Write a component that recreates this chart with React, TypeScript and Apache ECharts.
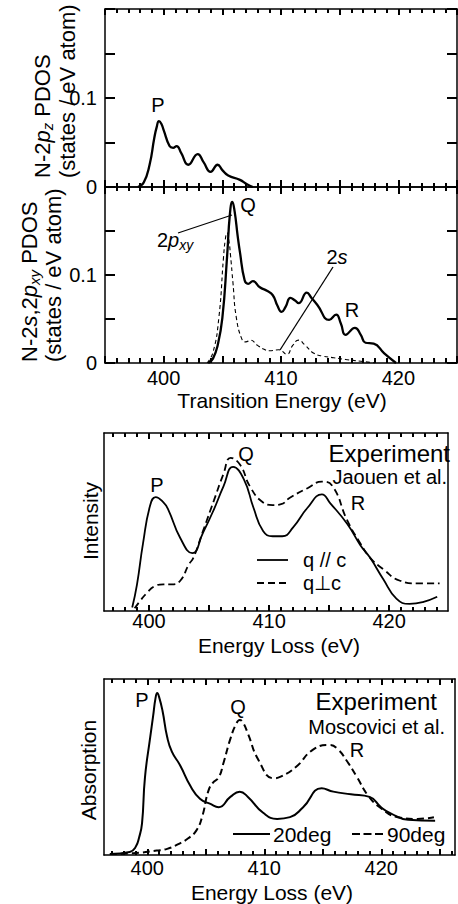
import React, { useEffect, useRef } from "react";
import * as echarts from "echarts";

const FONT = "'Liberation Sans', Arial, Helvetica, sans-serif";
const BLACK = "#000";

// ---------- Panel 1: N-2pz PDOS ----------
const pzEnergy = [397.8, 398.3, 398.8, 399.2, 399.4, 399.6, 399.8, 400.0, 400.5, 400.8, 401.1, 401.5, 402.1, 402.9, 403.4, 404.0, 404.6, 405.0, 405.5, 406.5, 407.1, 407.6];
const pzValue = [0, 0.005, 0.025, 0.055, 0.067, 0.074, 0.071, 0.064, 0.046, 0.044, 0.046, 0.038, 0.025, 0.037, 0.028, 0.017, 0.025, 0.019, 0.013, 0.008, 0.003, 0];

// ---------- Panel 2: N-2pxy (solid) and N-2s (dashed) PDOS ----------
const pxyEnergy = [403.8, 404.2, 404.6, 405.0, 405.4, 405.65, 405.85, 406.05, 406.3, 406.5, 406.9, 407.2, 407.6, 408.2, 408.8, 409.3, 409.7, 410.05, 410.4, 410.8, 411.2, 411.5, 412.2, 412.6, 413.1, 414.1, 414.7, 415.1, 415.5, 416.3, 416.8, 417.2, 417.9, 418.8, 419.8];
const pxyValue = [0, 0.005, 0.02, 0.051, 0.12, 0.17, 0.183, 0.172, 0.145, 0.126, 0.094, 0.09, 0.093, 0.086, 0.082, 0.077, 0.065, 0.058, 0.064, 0.074, 0.071, 0.068, 0.08, 0.074, 0.066, 0.049, 0.055, 0.045, 0.032, 0.04, 0.032, 0.023, 0.022, 0.011, 0];
const sEnergy = [403.7, 404.2, 404.7, 405.1, 405.25, 405.4, 405.55, 405.7, 405.9, 406.2, 406.7, 407.0, 407.4, 408.0, 408.5, 409.0, 409.8, 410.5, 411.0, 411.5, 412.0, 412.8, 413.5, 414.5, 415.5, 416.8, 418.0];
const sValue = [0, 0.012, 0.051, 0.12, 0.14, 0.148, 0.14, 0.122, 0.092, 0.051, 0.026, 0.024, 0.026, 0.02, 0.016, 0.014, 0.015, 0.01, 0.02, 0.026, 0.021, 0.011, 0.008, 0.006, 0.004, 0.002, 0];

// ---------- Panel 3: Experiment, Jaouen et al. ----------
const qParEnergy = [398.6, 399.0, 399.5, 400.1, 400.55, 401.2, 401.6, 402.6, 403.6, 404.5, 405.4, 406.2, 407.0, 407.9, 408.7, 409.5, 410.3, 411.1, 412.0, 413.2, 414.4, 415.1, 416.5, 417.6, 418.4, 419.5, 420.6, 421.7, 422.8, 424.0];
const qParValue = [0.02, 0.15, 0.38, 0.595, 0.64, 0.61, 0.57, 0.41, 0.325, 0.44, 0.57, 0.7, 0.81, 0.74, 0.58, 0.45, 0.42, 0.42, 0.47, 0.58, 0.655, 0.605, 0.49, 0.37, 0.3, 0.18, 0.07, 0.04, 0.05, 0.08];
const qPerpEnergy = [398.8, 399.3, 399.8, 400.5, 401.2, 401.9, 402.6, 403.3, 403.7, 404.5, 405.4, 406.2, 406.8, 407.6, 408.4, 409.5, 410.3, 411.0, 411.7, 413.2, 414.4, 415.3, 416.5, 417.6, 418.4, 419.5, 420.9, 422.3, 424.2];
const qPerpValue = [0.015, 0.06, 0.1, 0.14, 0.15, 0.15, 0.17, 0.26, 0.3, 0.45, 0.62, 0.77, 0.86, 0.82, 0.7, 0.61, 0.595, 0.6, 0.635, 0.69, 0.727, 0.7, 0.51, 0.38, 0.3, 0.235, 0.17, 0.155, 0.155];

// ---------- Panel 4: Experiment, Moscovici et al. ----------
const deg20Energy = [396.8, 398.5, 399.0, 399.3, 399.55, 399.8, 400.25, 400.5, 400.7, 400.85, 401.0, 401.3, 401.7, 402.1, 402.8, 403.7, 404.5, 405.4, 406.1, 407.1, 407.9, 408.6, 409.9, 411.1, 412.2, 413.3, 414.9, 415.9, 417.4, 419.0, 420.0, 420.8, 422.3, 424.6];
const deg20Value = [0.005, 0.017, 0.045, 0.1, 0.18, 0.44, 0.67, 0.79, 0.89, 0.92, 0.9, 0.82, 0.67, 0.587, 0.51, 0.39, 0.32, 0.29, 0.272, 0.33, 0.36, 0.33, 0.24, 0.205, 0.215, 0.27, 0.379, 0.36, 0.345, 0.33, 0.27, 0.237, 0.2, 0.195];
const deg90Energy = [396.8, 398.8, 400.8, 401.7, 402.6, 403.5, 404.2, 404.7, 405.2, 405.6, 406.1, 406.5, 407.1, 407.6, 407.9, 408.2, 408.6, 409.5, 410.8, 411.4, 412.7, 414.2, 415.6, 416.3, 417.0, 417.9, 418.9, 420.0, 421.4, 423.1, 424.5];
const deg90Value = [0.005, 0.01, 0.025, 0.035, 0.06, 0.095, 0.14, 0.22, 0.36, 0.41, 0.44, 0.52, 0.66, 0.745, 0.767, 0.75, 0.69, 0.54, 0.436, 0.445, 0.5, 0.6, 0.625, 0.6, 0.54, 0.445, 0.335, 0.265, 0.215, 0.205, 0.215];

// ---------- Tick labels / tick positions ----------
const energyTickLabels = [400, 410, 420];
const energyMajorTicks = [395, 400, 405, 410, 415, 420, 425];
const pdosTickLabels = [0, 0.1];

function zip(xs: number[], ys: number[]) {
  return xs.map((x, i) => [x, ys[i]]);
}

function minorTicksBetween(min: number, max: number) {
  const out: number[] = [];
  for (let v = Math.ceil(min); v <= Math.floor(max); v++) if (v % 5 !== 0) out.push(v);
  return out;
}

const TICK_W = 2;
const LINE_W = 1.5;

function labelStyle(margin: number) {
  return { show: true, customValues: energyTickLabels, fontSize: 20, fontFamily: FONT, color: BLACK, margin };
}

// Panels 1 and 2: min is a multiple of 5, so interval + minor ticks work directly
function intervalXAxes(gridIndex: number, bottomLen: [number, number], topLen: [number, number], labels: boolean, margin: number) {
  const base = (position: string, len: [number, number], showLabel: boolean) => ({
    type: "value",
    gridIndex,
    min: 395,
    max: 425,
    interval: 5,
    position,
    axisLine: { show: true, onZero: false, lineStyle: { color: BLACK, width: LINE_W } },
    axisTick: { show: true, inside: true, length: len[0], lineStyle: { color: BLACK, width: TICK_W } },
    minorTick: { show: true, splitNumber: 5, length: len[1], lineStyle: { color: BLACK, width: TICK_W } },
    axisLabel: showLabel ? labelStyle(margin) : { show: false },
    splitLine: { show: false },
    minorSplitLine: { show: false },
  });
  return [base("bottom", bottomLen, labels), base("top", topLen, false)];
}

// Panels 3 and 4: min is not a multiple of 5, so ticks are given as custom values
function customXAxes(gridIndex: number, min: number, max: number, majorLen: number, minorLen: number, margin: number) {
  const majors = energyMajorTicks.filter((v) => v >= min && v <= max);
  const minors = minorTicksBetween(min, max);
  const base = (position: string, values: number[], len: number, showLine: boolean, showLabel: boolean) => ({
    type: "value",
    gridIndex,
    min,
    max,
    position,
    axisLine: { show: showLine, onZero: false, lineStyle: { color: BLACK, width: LINE_W } },
    axisTick: { show: true, inside: true, length: len, customValues: values, lineStyle: { color: BLACK, width: TICK_W } },
    axisLabel: showLabel ? labelStyle(margin) : { show: false },
    splitLine: { show: false },
  });
  return [
    base("bottom", majors, majorLen, true, true),
    base("bottom", minors, minorLen, false, false),
    base("top", majors, majorLen, true, false),
    base("top", minors, minorLen, false, false),
  ];
}

function makeYAxes(gridIndex: number, min: number, max: number, interval: number, tickLen: number, labels: boolean) {
  const base = (position: string, showLabel: boolean) => ({
    type: "value",
    gridIndex,
    min,
    max,
    interval,
    position,
    axisLine: { show: true, onZero: false, lineStyle: { color: BLACK, width: LINE_W } },
    axisTick: { show: tickLen > 0, inside: true, length: tickLen, lineStyle: { color: BLACK, width: TICK_W } },
    axisLabel: showLabel
      ? {
          show: true,
          fontSize: 20,
          fontFamily: FONT,
          color: BLACK,
          margin: 8,
          formatter: (v: number) => {
            const hit = pdosTickLabels.find((t) => Math.abs(t - v) < 1e-9);
            return hit === undefined ? "" : String(hit);
          },
        }
      : { show: false },
    splitLine: { show: false },
  });
  return [base("left", labels), base("right", false)];
}

function lineSeries(data: number[][], xAxisIndex: number, yAxisIndex: number, width: number, dash?: number[]) {
  return {
    type: "line",
    data,
    xAxisIndex,
    yAxisIndex,
    showSymbol: false,
    symbol: "none",
    smooth: 0.5,
    silent: true,
    lineStyle: { color: BLACK, width, type: dash ? dash : "solid" },
  };
}

function txt(text: string, x: number, y: number, size: number, align = "center", vAlign = "middle") {
  return {
    type: "text",
    x,
    y,
    silent: true,
    style: {
      text,
      fontSize: size,
      fontFamily: FONT,
      fill: BLACK,
      align,
      verticalAlign: vAlign,
      textAlign: align,
      textVerticalAlign: vAlign,
    },
  };
}

const richStyles = (size: number) => ({
  n: { fontSize: size, fontFamily: FONT, fill: BLACK, color: BLACK, lineHeight: size + 4 },
  i: { fontSize: size, fontFamily: FONT, fontStyle: "italic", fill: BLACK, color: BLACK, lineHeight: size + 4 },
  sub: {
    fontSize: Math.round(size * 0.68),
    fontFamily: FONT,
    fontStyle: "italic",
    fill: BLACK,
    color: BLACK,
    verticalAlign: "bottom",
    lineHeight: Math.round(size * 0.68),
  },
});

function richTxt(text: string, x: number, y: number, size: number, align: string, rotation = 0) {
  return {
    type: "text",
    x,
    y,
    rotation,
    silent: true,
    style: {
      text,
      rich: richStyles(size),
      fontSize: size,
      fontFamily: FONT,
      fill: BLACK,
      align,
      verticalAlign: "middle",
      textAlign: align,
      textVerticalAlign: "middle",
    },
  };
}

function seg(x1: number, y1: number, x2: number, y2: number, width: number, dash?: number[]) {
  return {
    type: "line",
    silent: true,
    shape: { x1, y1, x2, y2 },
    style: { stroke: BLACK, lineWidth: width, lineDash: dash ? dash : null },
  };
}

export default function App() {
  const ref = useRef<HTMLDivElement>(null);

  useEffect(() => {
    if (!ref.current) return;
    const chart = echarts.init(ref.current, undefined, { renderer: "svg" });

    const grids = [
      { left: 105, top: 9, width: 352, height: 178 },
      { left: 105, top: 187, width: 352, height: 176 },
      { left: 104, top: 433, width: 344, height: 178 },
      { left: 104, top: 679, width: 351, height: 176 },
    ];

    // x axes: grid0 -> 0,1 ; grid1 -> 2,3 ; grid2 -> 4..7 ; grid3 -> 8..11
    const xAxis = [
      ...intervalXAxes(0, [7, 4], [6, 4], false, 5),
      ...intervalXAxes(1, [7, 5], [7, 4], true, 5),
      ...customXAxes(2, 396.25, 424.9, 6, 4, 0),
      ...customXAxes(3, 396.3, 426.3, 6, 4, 3),
    ];
    const X = [0, 2, 4, 8];

    // y axes: grid g -> 2g (left), 2g+1 (right)
    const yAxis = [
      ...makeYAxes(0, 0, 0.2, 0.05, 10, true),
      ...makeYAxes(1, 0, 0.2, 0.05, 10, true),
      ...makeYAxes(2, 0, 1, 0.5, 0, false),
      ...makeYAxes(3, 0, 1, 0.5, 0, false),
    ];
    const Y = [0, 2, 4, 6];

    const series = [
      lineSeries(zip(pzEnergy, pzValue), X[0], Y[0], 2.3),
      lineSeries(zip(pxyEnergy, pxyValue), X[1], Y[1], 2.3),
      lineSeries(zip(sEnergy, sValue), X[1], Y[1], 1.1, [4, 3]),
      lineSeries(zip(qParEnergy, qParValue), X[2], Y[2], 1.8),
      lineSeries(zip(qPerpEnergy, qPerpValue), X[2], Y[2], 1.8, [7, 4]),
      lineSeries(zip(deg20Energy, deg20Value), X[3], Y[3], 2),
      lineSeries(zip(deg90Energy, deg90Value), X[3], Y[3], 2, [7, 4]),
    ];

    const graphic = [
      // Panel 1
      richTxt("{n|N-2}{i|p}{sub|z}{n| PDOS}", 42, 178, 22, "left", Math.PI / 2),
      richTxt("{n|(states / eV atom)}", 67, 178, 22, "left", Math.PI / 2),
      txt("P", 158, 105, 20),
      // Panel 2
      richTxt("{n|N-2}{i|s}{n|,2}{i|p}{sub|xy}{n| PDOS}", 29, 362, 22, "left", Math.PI / 2),
      richTxt("{n|(states / eV atom)}", 53, 362, 22, "left", Math.PI / 2),
      txt("Q", 248, 205, 20),
      richTxt("{n|2}{i|p}{sub|xy}", 157, 240, 20, "left"),
      seg(178, 233, 232, 215, 1.3),
      richTxt("{n|2}{i|s}", 337, 257, 20, "center"),
      seg(333, 267, 280, 350, 1.3),
      txt("R", 352, 310, 20),
      txt("Transition Energy (eV)", 282, 400, 21),
      // Panel 3
      { ...txt("Intensity", 90, 521, 21), rotation: Math.PI / 2 },
      txt("P", 157, 485, 20),
      txt("Q", 246, 454, 20),
      txt("R", 358, 503, 20),
      txt("Experiment", 450, 453, 24, "right"),
      txt("Jaouen et al.", 447, 477, 20, "right"),
      seg(257, 560, 288, 560, 1.8),
      txt("q // c", 303, 560, 20, "left"),
      seg(257, 583, 288, 583, 1.8, [7, 4]),
      txt("q\u22A5c", 303, 583, 20, "left"),
      txt("Energy Loss (eV)", 279, 645, 21),
      // Panel 4
      { ...txt("Absorption", 88, 770, 21), rotation: Math.PI / 2 },
      txt("P", 142, 700, 20),
      txt("Q", 238, 707, 20),
      txt("R", 357, 750, 20),
      txt("Experiment", 437, 701, 24, "right"),
      txt("Moscovici et al.", 445, 727, 20, "right"),
      seg(233, 834, 270, 834, 2),
      txt("20deg", 273, 834, 21, "left"),
      seg(352, 834, 384, 834, 2, [8, 3.5]),
      txt("90deg", 387, 834, 21, "left"),
      txt("Energy Loss (eV)", 272, 892, 21),
    ];

    chart.setOption({
      animation: false,
      backgroundColor: "#fff",
      textStyle: { fontFamily: FONT },
      grid: grids,
      xAxis,
      yAxis,
      series,
      graphic,
    });

    return () => chart.dispose();
  }, []);

  return <div ref={ref} style={{ position: "absolute", left: 0, top: 0, width: 458, height: 904 }} />;
}
